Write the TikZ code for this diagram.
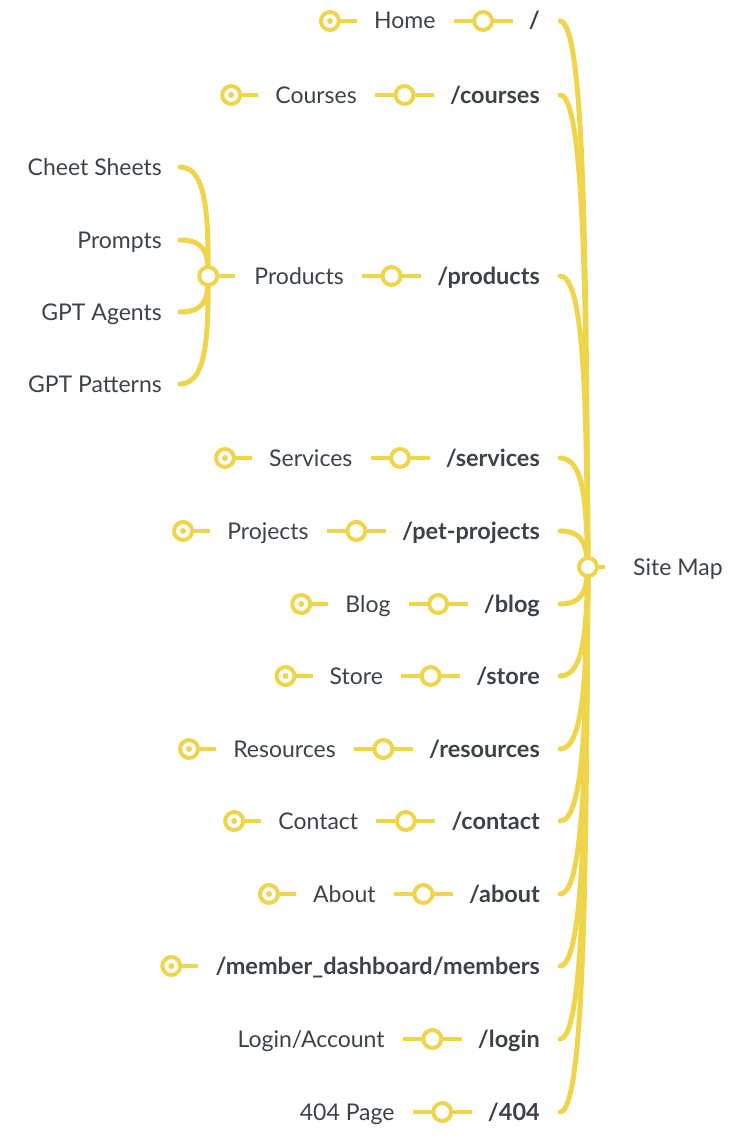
\documentclass[tikz,border=0pt]{standalone}
\usepackage{fontspec}
\setmainfont{Lato}
\usetikzlibrary{calc}
\definecolor{ylw}{HTML}{EFD54B}
\definecolor{txt}{HTML}{3D4249}
\tikzset{
 lbl/.style={font=\fontsize{23}{27}\selectfont, text=txt, inner sep=0pt, anchor=base east},
 pth/.style={lbl, font=\fontsize{23.5}{27}\selectfont\bfseries},
 curve/.style={draw=ylw, line width=5pt, line cap=round},
 link/.style={draw=ylw, line width=4pt},
 ring/.style={circle, draw=ylw, line width=4pt, fill=white, minimum size=18pt, inner sep=0pt},
 dotc/.style={circle, fill=ylw, minimum size=6pt, inner sep=0pt},
}
% #1 id, #2 y, #3 path text
\newcommand\pathnode[3]{%
 \coordinate (e#1) at (560,#2);
 \draw[curve] (rootc) .. controls (586,{0.5*(567+#2)}) and (586,#2) .. (e#1);
 \node[pth] (p#1) at (540,#2+8) {#3};
}
% connector and label: #1 id, #2 y, #3 label
\newcommand\labelnode[3]{%
 \coordinate (c#1a) at ($(p#1.west |- 0,#2)+(-16,0)$);
 \coordinate (c#1b) at ($(c#1a)+(-59,0)$);
 \draw[link] (c#1a) -- (c#1b);
 \node[ring] (r#1) at ($(c#1a)!0.5!(c#1b)$) {};
 \node[lbl] (l#1) at ($(c#1b)+(-18,8)$) {#3};
}
% collapsed marker left of node #2 at row y #3, id #1
\newcommand\marker[3]{%
 \coordinate (m#1a) at ($(#2.west |- 0,#3)+(-17,0)$);
 \draw[link] (m#1a) -- ++(-20,0);
 \node[ring] (m#1) at ($(m#1a)+(-27,0)$) {};
 \node[dotc] (d#1) at (m#1) {};
}
\begin{document}
\begin{tikzpicture}[x=1pt,y=-1pt]
\useasboundingbox (0,0) rectangle (740,1140);
\coordinate (rootc) at (588,567);

\pathnode{home}{21}{/}
\labelnode{home}{21}{Home}
\marker{home}{lhome}{21}

\pathnode{courses}{95}{/courses}
\labelnode{courses}{95}{Courses}
\marker{courses}{lcourses}{95}

\pathnode{products}{276}{/products}
\labelnode{products}{276}{Products}
\coordinate (pja) at ($(lproducts.west |- 0,276)+(-19,0)$);
\coordinate (pjc) at ($(pja)+(-27,0)$);
\coordinate (cs) at (180,167);
\coordinate (pr) at (180,240);
\coordinate (ga) at (180,312);
\coordinate (gp) at (180,384);
\foreach \c/\yy in {cs/167,pr/240,ga/312,gp/384}{
 \draw[curve] (pjc) .. controls (208,{0.5*(276+\yy)}) and (208,\yy) .. (\c);
}
\draw[link] (pja) -- (pjc);
\node[ring] (pj) at (pjc) {};
\node[lbl] (tcs) at (162,175) {Cheet Sheets};
\node[lbl] (tpr) at (162,248) {Prompts};
\node[lbl] (tga) at (162,320) {GPT Agents};
\node[lbl] (tgp) at (162,392) {GPT Patterns};

\pathnode{services}{458}{/services}
\labelnode{services}{458}{Services}
\marker{services}{lservices}{458}

\pathnode{projects}{531}{/pet-projects}
\labelnode{projects}{531}{Projects}
\marker{projects}{lprojects}{531}

\pathnode{blog}{604}{/blog}
\labelnode{blog}{604}{Blog}
\marker{blog}{lblog}{604}

\pathnode{store}{676}{/store}
\labelnode{store}{676}{Store}
\marker{store}{lstore}{676}

\pathnode{resources}{749}{/resources}
\labelnode{resources}{749}{Resources}
\marker{resources}{lresources}{749}

\pathnode{contact}{821}{/contact}
\labelnode{contact}{821}{Contact}
\marker{contact}{lcontact}{821}

\pathnode{about}{894}{/about}
\labelnode{about}{894}{About}
\marker{about}{labout}{894}

\pathnode{member}{966}{/member\_dashboard/members}
\marker{member}{pmember}{966}

\pathnode{login}{1039}{/login}
\labelnode{login}{1039}{Login/Account}

\pathnode{nf}{1112}{/404}
\labelnode{nf}{1112}{404 Page}

\coordinate (rs) at (605,567);
\draw[link] (rootc) -- (rs);
\node[ring] (root) at (rootc) {};
\node[lbl, anchor=base west] (troot) at (633,575) {Site Map};
\end{tikzpicture}
\end{document}
